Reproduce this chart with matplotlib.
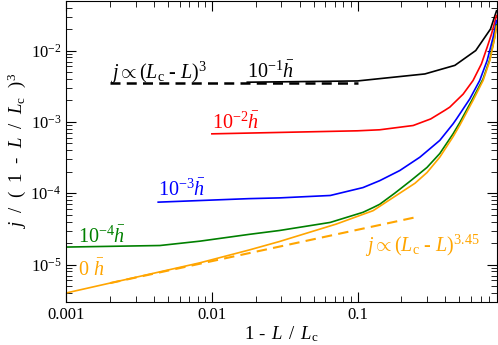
import matplotlib
matplotlib.use("Agg")
import matplotlib.pyplot as plt

plt.rcParams['font.family'] = ['Liberation Serif', 'DejaVu Serif']
plt.rcParams['mathtext.fontset'] = 'custom'
plt.rcParams['mathtext.rm'] = 'Liberation Serif'
plt.rcParams['mathtext.it'] = 'Liberation Serif:italic'
plt.rcParams['mathtext.cal'] = 'Liberation Serif'

# data: x = 1 - L/Lc, y = j/(1-L/Lc)^3
x_black = [0.0175, 0.1, 0.29, 0.466, 0.648, 0.818, 0.9]
y_black = [3.6e-3, 3.75e-3, 4.7e-3, 6.2e-3, 1.0e-2, 2.0e-2, 3.6e-2]

x_red = [0.01, 0.1, 0.142, 0.241, 0.318, 0.397, 0.43, 0.531, 0.621, 0.709, 0.776, 0.832, 0.9]
y_red = [6.8e-4, 7.5e-4, 7.75e-4, 8.9e-4, 1.1e-3, 1.45e-3, 1.61e-3, 2.45e-3, 3.8e-3, 6.5e-3, 1.11e-2, 1.71e-2, 3.1e-2]

x_blue = [0.00428, 0.018, 0.029, 0.065, 0.109, 0.142, 0.195, 0.268, 0.367, 0.453, 0.478, 0.59, 0.69, 0.776, 0.853, 0.9]
y_blue = [7.5e-5, 8.4e-5, 8.6e-5, 9.3e-5, 1.2e-4, 1.5e-4, 2.08e-4, 3.2e-4, 5.5e-4, 9.4e-4, 1.1e-3, 2.1e-3, 3.8e-3, 7.24e-3, 1.53e-2, 2.63e-2]

x_green = [0.001, 0.0044, 0.0083, 0.018, 0.029, 0.065, 0.109, 0.128, 0.142, 0.18, 0.232, 0.3, 0.367, 0.453, 0.504, 0.621, 0.728, 0.809, 0.875, 0.9]
y_green = [1.76e-5, 1.85e-5, 2.13e-5, 2.65e-5, 3.0e-5, 3.9e-5, 5.4e-5, 6.3e-5, 7.0e-5, 1.0e-4, 1.5e-4, 2.3e-4, 3.6e-4, 6.8e-4, 9.8e-4, 2.15e-3, 4.0e-3, 7.5e-3, 1.55e-2, 2.3e-2]

x_orange = [0.001, 0.0083, 0.018, 0.029, 0.0716, 0.128, 0.18, 0.248, 0.3, 0.367, 0.453, 0.504, 0.621, 0.728, 0.809, 0.875, 0.9]
y_orange = [4.0e-6, 1.06e-5, 1.6e-5, 2.1e-5, 3.7e-5, 5.7e-5, 9.0e-5, 1.38e-4, 1.95e-4, 3.2e-4, 6.2e-4, 9.0e-4, 2.0e-3, 3.8e-3, 7.2e-3, 1.5e-2, 2.2e-2]

# power-law guides
x_guide3 = [0.002, 0.1]
y_guide3 = [3.5e-3, 3.5e-3]
x_guide345 = [0.002, 0.25]
y_guide345 = [5.5e-6, 4.6e-5]

fig = plt.figure(figsize=(4.98, 3.45), dpi=100)
ax = fig.add_axes([0.133, 0.125, 0.864, 0.873])

lw = 1.2
ax.plot(x_black, y_black, color='black', lw=lw)
ax.plot(x_red, y_red, color='red', lw=lw)
ax.plot(x_blue, y_blue, color='blue', lw=lw)
ax.plot(x_green, y_green, color='green', lw=lw)
ax.plot(x_orange, y_orange, color='orange', lw=lw)
ax.plot(x_guide3, y_guide3, color='black', lw=1.8, ls=(0, (4, 2.5)))
ax.plot(x_guide345, y_guide345, color='orange', lw=1.5, ls=(0, (5, 3)))

ax.set_xscale('log')
ax.set_yscale('log')
ax.set_xlim(0.001, 0.9)
ax.set_ylim(3e-6, 5e-2)

ax.tick_params(which='both', direction='in', top=True, right=True, labelsize=12)
ax.tick_params(which='major', length=7)
ax.tick_params(which='minor', length=4)
ax.set_xticks([0.001, 0.01, 0.1])
ax.set_xticklabels(['0.001', '0.01', '0.1'])
ax.set_yticks([1e-5, 1e-4, 1e-3, 1e-2])
ax.set_yticklabels(['10$^{-5}$', '10$^{-4}$', '10$^{-3}$', '10$^{-2}$'])

ax.set_xlabel(r'1 - $\,L\,$ / $\,L_{\rm c}$', fontsize=13.5, labelpad=1)
ax.set_ylabel(r'$j$  /  (  1  -  $L$  /  $L_{\rm c}$  )$^3$', fontsize=13.5, labelpad=2)

fs = 14.5
ax.text(0.002, 4.0e-3, r'$j \propto (L_{\rm c}$ - $L)^3$', fontsize=fs, color='black', va='baseline')
ax.text(0.0175, 4.1e-3, r'10$^{-1}\bar{h}$', fontsize=fs, color='black', va='baseline')
ax.text(0.01, 8.0e-4, r'10$^{-2}\bar{h}$', fontsize=fs, color='red', va='baseline')
ax.text(0.0043, 9.1e-5, r'10$^{-3}\bar{h}$', fontsize=fs, color='blue', va='baseline')
ax.text(0.0012, 1.98e-5, r'10$^{-4}\bar{h}$', fontsize=fs, color='green', va='baseline')
ax.text(0.0012, 7.0e-6, r'0 $\bar{h}$', fontsize=fs, color='orange', va='baseline')
ax.text(0.112, 1.5e-5, r'$j \propto (L_{\rm c}$ - $L)^{3.45}$', fontsize=fs, color='orange', va='baseline')

fig.savefig('out.png', dpi=100)
